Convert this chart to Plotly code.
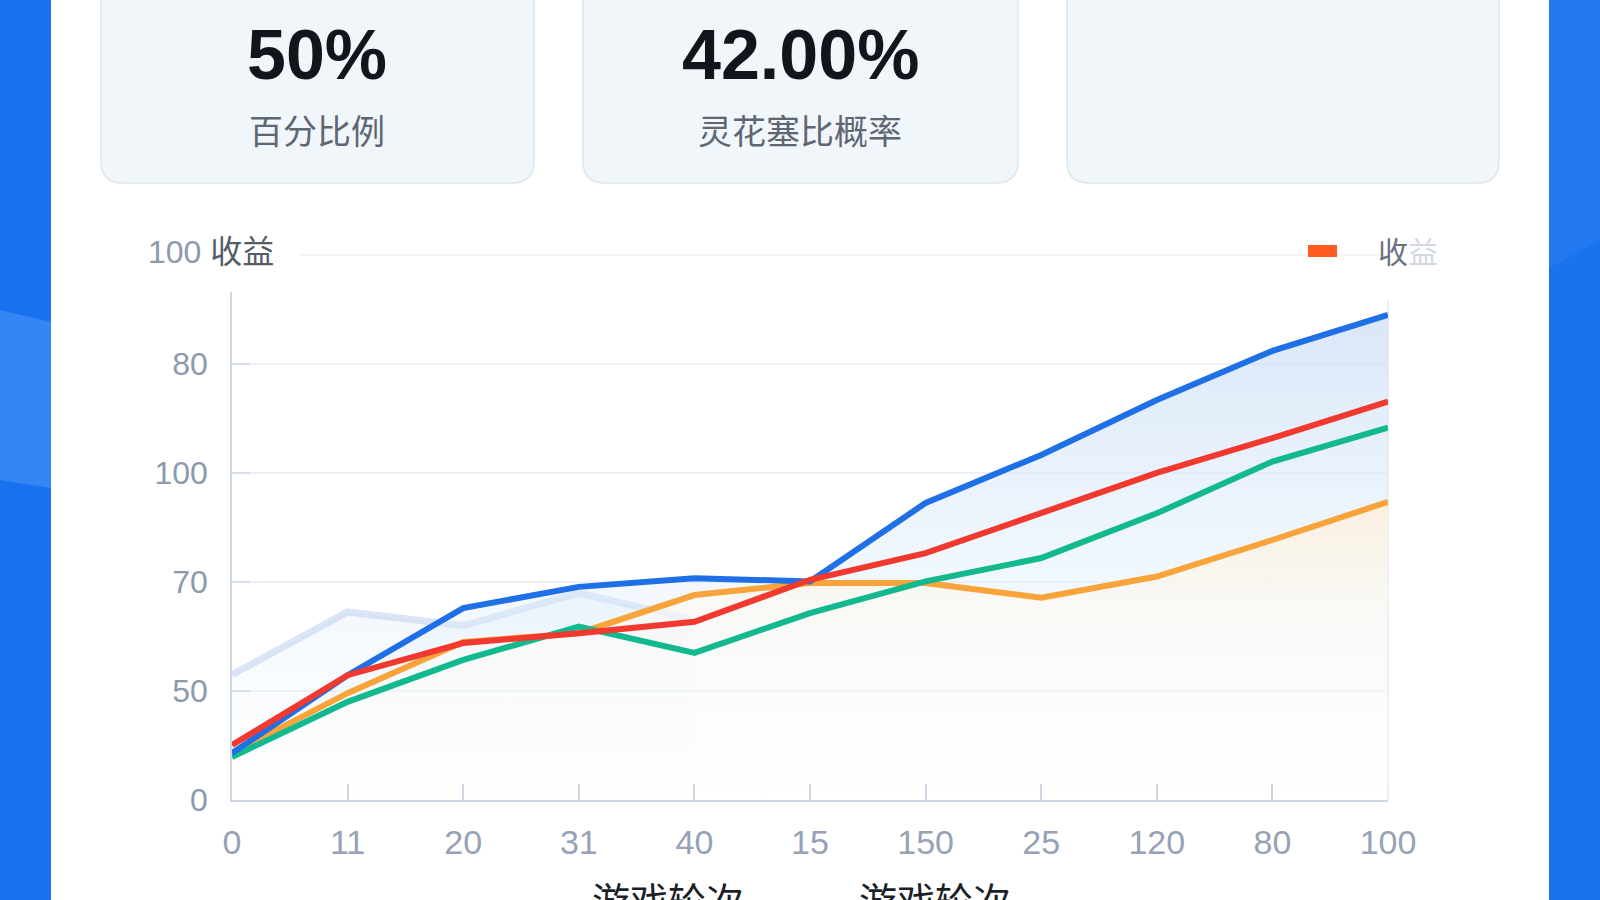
import plotly.graph_objects as go

# ---------------- data ----------------
rounds = ["0", "11", "20", "31", "40", "15", "150", "25", "120", "80", "100"]
blue_vals = [8.6, 22.9, 35.2, 39.1, 40.7, 40.1, 54.5, 63.3, 73.4, 82.4, 89.0]
red_vals = [10.1, 22.9, 28.8, 30.6, 32.7, 40.4, 45.3, 52.6, 60.0, 66.4, 73.1]
green_vals = [7.9, 18.0, 25.7, 31.8, 27.0, 34.3, 40.1, 44.4, 52.6, 62.1, 68.3]
orange_vals = [8.6, 19.6, 29.0, 30.6, 37.6, 39.8, 39.8, 37.1, 41.0, 47.7, 54.7]
ghost_rounds = ["0", "11", "20", "31", "40"]
ghost_vals = [23.0, 34.5, 32.0, 38.0, 33.0]

y_tickvals = [0, 20, 40, 60, 80]
y_ticktext = ["0", "50", "70", "100", "80"]

kpi_values = ["50%", "42.00%"]
kpi_labels = ["百分比例", "灵花塞比概率"]
legend_name = "收益"
x_title = "游戏轮次"

# ---------------- layout helpers (pixel -> paper) ----------------
L, R, T, B = 232, 1388, 292, 800
W, H = R - L, B - T


def px(x):
    return (x - L) / W


def py(y):
    return (B - y) / H


def rounded_rect(x0, y0, x1, y1, r):
    rx, ry = r / W, r / H
    X0, X1 = px(x0), px(x1)
    Yt, Yb = py(y0), py(y1)
    return (f"M {X0+rx},{Yt} L {X1-rx},{Yt} Q {X1},{Yt} {X1},{Yt-ry} "
            f"L {X1},{Yb+ry} Q {X1},{Yb} {X1-rx},{Yb} L {X0+rx},{Yb} "
            f"Q {X0},{Yb} {X0},{Yb+ry} L {X0},{Yt-ry} Q {X0},{Yt} {X0+rx},{Yt} Z")


fig = go.Figure()

# ghost faint series
fig.add_trace(go.Scatter(
    x=ghost_rounds, y=ghost_vals, mode="lines",
    line=dict(color="rgba(185,204,240,0.5)", width=7),
    fill="tozeroy",
    fillgradient=dict(type="vertical", start=0, stop=40,
                      colorscale=[[0, "rgba(225,238,250,0)"], [1, "rgba(210,226,246,0.3)"]]),
    hoverinfo="skip", showlegend=False))

# blue fill (below everything)
fig.add_trace(go.Scatter(
    x=rounds, y=blue_vals, mode="lines",
    line=dict(color="rgba(0,0,0,0)", width=0),
    fill="tozeroy",
    fillgradient=dict(type="vertical", start=0, stop=90,
                      colorscale=[[0, "rgba(232,244,252,0)"], [0.35, "rgba(224,240,251,0.35)"],
                                  [1, "rgba(205,222,246,0.75)"]]),
    hoverinfo="skip", showlegend=False))

# orange fill (peach/white, on top of blue fill)
fig.add_trace(go.Scatter(
    x=rounds, y=orange_vals, mode="lines",
    line=dict(color="rgba(0,0,0,0)", width=0),
    fill="tozeroy",
    fillgradient=dict(type="vertical", start=0, stop=55,
                      colorscale=[[0, "rgba(255,255,255,0.2)"], [0.6, "rgba(255,250,242,0.55)"],
                                  [1, "rgba(253,238,215,0.8)"]]),
    hoverinfo="skip", showlegend=False))

# orange line
fig.add_trace(go.Scatter(
    x=rounds, y=orange_vals, mode="lines",
    line=dict(color="#f9a43a", width=6), showlegend=False))

# green
fig.add_trace(go.Scatter(
    x=rounds, y=green_vals, mode="lines",
    line=dict(color="#13b98e", width=6), showlegend=False))

# blue
fig.add_trace(go.Scatter(
    x=rounds, y=blue_vals, mode="lines",
    line=dict(color="#1f6fe6", width=6), showlegend=False))

# red
fig.add_trace(go.Scatter(
    x=rounds, y=red_vals, mode="lines", name=legend_name,
    line=dict(color="#f1392f", width=6), showlegend=False))

shapes = []
# blue side stripes
shapes.append(dict(type="rect", xref="paper", yref="paper",
                   x0=px(0), x1=px(51), y0=py(900), y1=py(0),
                   fillcolor="#1872f0", line=dict(width=0), layer="below"))
shapes.append(dict(type="path", xref="paper", yref="paper",
                   path=f"M {px(0)},{py(310)} L {px(51)},{py(322)} L {px(51)},{py(488)} L {px(0)},{py(480)} Z",
                   fillcolor="#3486f4", line=dict(width=0), layer="below"))
shapes.append(dict(type="rect", xref="paper", yref="paper",
                   x0=px(1549), x1=px(1600), y0=py(900), y1=py(0),
                   fillcolor="#1a72ec", line=dict(width=0), layer="below"))
shapes.append(dict(type="path", xref="paper", yref="paper",
                   path=f"M {px(1549)},{py(0)} L {px(1600)},{py(0)} L {px(1600)},{py(240)} L {px(1549)},{py(268)} Z",
                   fillcolor="#2279ef", line=dict(width=0), layer="below"))

# kpi cards
for (x0, x1) in [(101, 534), (583, 1018), (1067, 1499)]:
    shapes.append(dict(type="path", xref="paper", yref="paper",
                       path=rounded_rect(x0, -40, x1, 183, 22),
                       fillcolor="#f0f6f9", line=dict(color="#dae7ee", width=1.5),
                       layer="below"))

# top faint gridline
shapes.append(dict(type="line", xref="paper", yref="paper",
                   x0=px(300), x1=px(1388), y0=py(255), y1=py(255),
                   line=dict(color="#eff3f7", width=1.5), layer="below"))
# right faint border
shapes.append(dict(type="line", xref="paper", yref="paper",
                   x0=1, x1=1, y0=0, y1=py(300),
                   line=dict(color="#e4eaf2", width=1.5), layer="below"))
# legend swatch
shapes.append(dict(type="rect", xref="paper", yref="paper",
                   x0=px(1308), x1=px(1337), y0=py(257), y1=py(245),
                   fillcolor="#ff5a1f", line=dict(width=0)))

annotations = []
for cx, val, lab in zip([317, 800], kpi_values, kpi_labels):
    annotations.append(dict(xref="paper", yref="paper", x=px(cx), y=py(55),
                            text=f"<b>{val}</b>", showarrow=False,
                            font=dict(family="Liberation Sans, Arial", size=70, color="#12151c"),
                            xanchor="center", yanchor="middle"))
    annotations.append(dict(xref="paper", yref="paper", x=px(cx), y=py(130),
                            text=lab, showarrow=False,
                            font=dict(family="Noto Sans CJK SC", size=34, color="#5f6673"),
                            xanchor="center", yanchor="middle"))

annotations.append(dict(xref="paper", yref="paper", x=px(146), y=py(252),
                        text="100 <span style='color:#555c68'>收益</span>", showarrow=False,
                        font=dict(family="Liberation Sans, Noto Sans CJK SC", size=32, color="#8d99ad"),
                        xanchor="left", yanchor="middle"))
annotations.append(dict(xref="paper", yref="paper", x=px(1376), y=py(250),
                        text="收<span style='color:#d3d9e1'>益</span>", showarrow=False,
                        font=dict(family="Noto Sans CJK SC", size=30, color="#6b7280"),
                        xanchor="left", yanchor="middle"))
for cx in [668, 935]:
    annotations.append(dict(xref="paper", yref="paper", x=px(cx), y=py(898),
                            text=x_title, showarrow=False,
                            font=dict(family="Noto Sans CJK SC", size=38, color="#1b1f27"),
                            xanchor="center", yanchor="middle"))

fig.update_layout(
    width=1600, height=900,
    margin=dict(l=L, r=1600 - R, t=T, b=900 - B, pad=0),
    paper_bgcolor="white", plot_bgcolor="rgba(0,0,0,0)",
    shapes=shapes, annotations=annotations,
    xaxis=dict(type="category", categoryorder="array", categoryarray=rounds,
               range=[0, 10], showgrid=False, zeroline=False,
               showline=True, linecolor="#cdd6e3", linewidth=1.5,
               ticks="inside", ticklen=16, tickcolor="#cdd6e3", tickwidth=1.5,
               ticklabelstandoff=11,
               tickfont=dict(family="Liberation Sans", size=34, color="#96a2b5")),
    yaxis=dict(range=[0, 93.2], tickvals=y_tickvals, ticktext=y_ticktext,
               showgrid=True, gridcolor="#edf1f6", gridwidth=1.5, zeroline=False,
               showline=True, linecolor="#cdd6e3", linewidth=1.5,
               ticks="inside", ticklen=18, tickcolor="#d6dee9", tickwidth=1.5,
               ticklabelstandoff=16,
               tickfont=dict(family="Liberation Sans", size=32, color="#8d99ad")),
)

fig.write_html("out.html")
